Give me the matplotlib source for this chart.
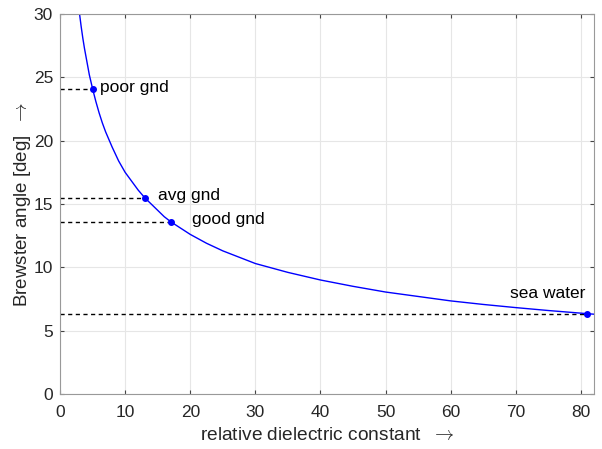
import matplotlib
matplotlib.use("Agg")
import matplotlib.pyplot as plt

plt.rcParams['font.family'] = ['Liberation Sans', 'DejaVu Sans']
plt.rcParams['mathtext.fontset'] = 'cm'

# curve: relative dielectric constant vs Brewster angle [deg]
eps_r = [3.0, 3.25, 3.5, 3.75, 4.0, 4.5, 5.0, 5.5, 6.0, 6.5, 7.0, 7.5, 8.0, 9.0, 10.0, 11.0, 12.0,
         13.0, 14.0, 15.0, 16.0, 17.0, 18.5, 20.0, 22.5, 25.0, 27.5, 30.0, 32.5, 35.0, 37.5,
         40.0, 45.0, 50.0, 55.0, 60.0, 65.0, 70.0, 75.0, 81.0, 82.0]
angle = [30.0, 29.0, 28.1, 27.3, 26.6, 25.2, 24.1, 23.1, 22.2, 21.4, 20.7, 20.1, 19.5, 18.4, 17.5,
         16.8, 16.1, 15.5, 15.0, 14.5, 14.0, 13.6, 13.1, 12.6, 11.9, 11.3, 10.8, 10.3, 9.95, 9.6,
         9.3, 9.0, 8.5, 8.05, 7.7, 7.35, 7.07, 6.82, 6.59, 6.34, 6.3]

# marked grounds
gnd_eps = [5, 13, 17, 81]
gnd_ang = [24.1, 15.5, 13.6, 6.34]
gnd_names = ["poor gnd", "avg gnd", "good gnd", "sea water"]

fig = plt.figure(figsize=(6.02, 4.49), dpi=100)
ax = fig.add_axes([0.0997, 0.1225, 0.887, 0.8463])

ax.grid(True, color='#e6e6e6', linewidth=0.8)
ax.set_axisbelow(True)

for e, a in zip(gnd_eps, gnd_ang):
    ax.plot([0, e], [a, a], '--', color='black', linewidth=1.0, dashes=(3, 2.5))

ax.plot(eps_r, angle, color='blue', linewidth=1.0)
ax.plot(gnd_eps, gnd_ang, 'o', color='blue', markersize=4)

ax.text(6.1, 24.2, gnd_names[0], fontsize=12.5, va='center')
ax.text(15.0, 15.7, gnd_names[1], fontsize=12.5, va='center')
ax.text(20.2, 13.8, gnd_names[2], fontsize=12.5, va='center')
ax.text(80.6, 7.9, gnd_names[3], fontsize=12.5, va='center', ha='right')

ax.set_xlim(0, 82)
ax.set_ylim(0, 30)
ax.set_xticks(range(0, 81, 10))
ax.set_yticks(range(0, 31, 5))
ax.tick_params(direction='in', length=3, labelsize=12.5, color='#444444', top=True, right=True,
               labelcolor='#262626')
ax.tick_params(axis='x', pad=8)
ax.tick_params(axis='y', pad=5)
for s in ax.spines.values():
    s.set_color('#999999')

ax.set_xlabel(r'relative dielectric constant  $\rightarrow$', fontsize=13.8, color='#262626',
              labelpad=5)
ax.set_ylabel(r'Brewster angle [deg]  $\rightarrow$', fontsize=13.5, color='#262626',
              labelpad=0.5)

fig.savefig("out.png", dpi=100)
